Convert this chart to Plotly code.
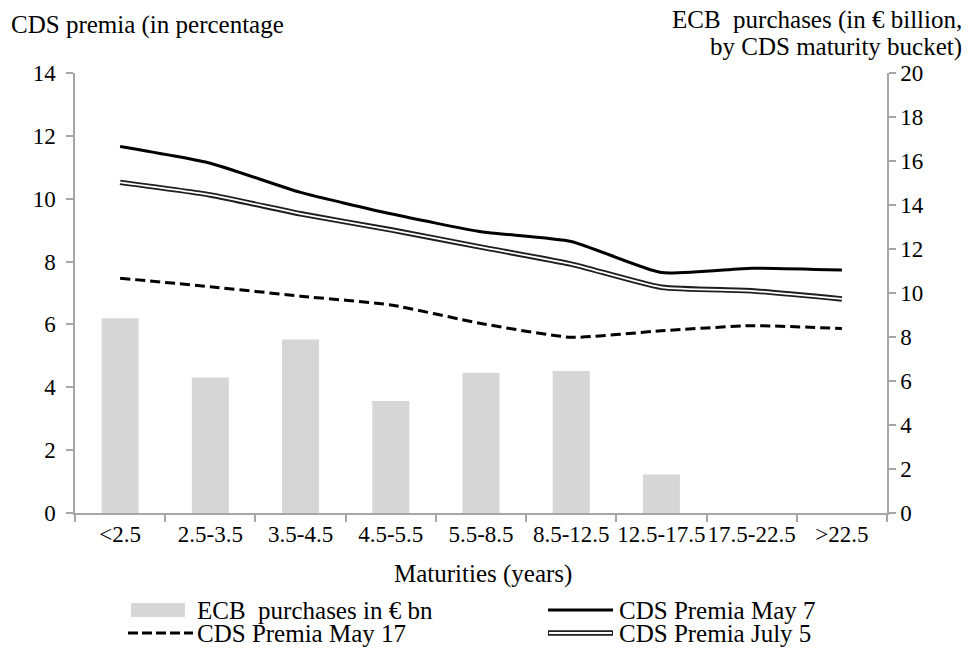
import plotly.graph_objects as go

categories = ["<2.5", "2.5-3.5", "3.5-4.5", "4.5-5.5", "5.5-8.5", "8.5-12.5", "12.5-17.5", "17.5-22.5", ">22.5"]
ecb_purchases = [8.85, 6.16, 7.89, 5.09, 6.37, 6.46, 1.75, 0, 0]
cds_may7 = [11.66, 11.13, 10.20, 9.52, 8.95, 8.64, 7.65, 7.79, 7.73]
cds_may17 = [7.47, 7.20, 6.90, 6.62, 6.03, 5.59, 5.80, 5.96, 5.87]
cds_july5 = [10.52, 10.12, 9.52, 9.01, 8.46, 7.92, 7.18, 7.07, 6.81]

legend_names = ["ECB\u00a0 purchases in € bn", "CDS Premia May 7", "CDS Premia May 17", "CDS Premia July 5"]
left_title = "CDS premia (in percentage"
right_title_lines = ["ECB\u00a0 purchases (in € billion,", "by CDS maturity bucket)"]
x_title = "Maturities (years)"

FONT = "'Times New Roman', 'Liberation Serif', 'DejaVu Serif', serif"
W, H = 969, 655
ML, MR, MT, MB = 75, 82, 73, 142
PW, PH = W - ML - MR, H - MT - MB
BAR_COL = "#d6d6d6"
AX_COL = "#a6a6a6"

def f(size):
    return dict(family=FONT, size=size, color="black")

def px(X):
    return (X - ML) / PW

def py(Y):
    return (H - MB - Y) / PH

fig = go.Figure()
fig.add_trace(go.Bar(x=categories, y=ecb_purchases, name=legend_names[0],
                     marker=dict(color=BAR_COL, line=dict(width=0)), width=0.41, yaxis="y2"))
fig.add_trace(go.Scatter(x=categories, y=cds_may7, name=legend_names[1], mode="lines",
                         line=dict(color="black", width=3, shape="spline", smoothing=0.5)))
fig.add_trace(go.Scatter(x=categories, y=cds_may17, name=legend_names[2], mode="lines",
                         line=dict(color="black", width=3, dash="10px,5px", shape="spline", smoothing=0.5)))
fig.add_trace(go.Scatter(x=categories, y=cds_july5, name=legend_names[3], mode="lines",
                         line=dict(color="#1e1e1e", width=5.5, shape="spline", smoothing=0.5)))
fig.add_trace(go.Scatter(x=categories, y=cds_july5, name="inner", mode="lines",
                         line=dict(color="white", width=1.8, shape="spline", smoothing=0.5)))

# manual legend (two columns)
row1, row2 = 610, 633
colL_sym, colR_sym = (128, 193), (548, 613)
colL_txt, colR_txt = 195, 617
shapes = [
    dict(type="rect", xref="paper", yref="paper", x0=px(colL_sym[0] + 3), x1=px(colL_sym[1] - 8),
         y0=py(row1 + 7), y1=py(row1 - 7), fillcolor=BAR_COL, line=dict(width=0)),
    dict(type="line", xref="paper", yref="paper", x0=px(colR_sym[0]), x1=px(colR_sym[1]),
         y0=py(row1), y1=py(row1), line=dict(color="black", width=3)),
    dict(type="line", xref="paper", yref="paper", x0=px(colL_sym[0]), x1=px(colL_sym[1]),
         y0=py(row2), y1=py(row2), line=dict(color="black", width=3, dash="10px,4px")),
    dict(type="line", xref="paper", yref="paper", x0=px(colR_sym[0]), x1=px(colR_sym[1]),
         y0=py(row2), y1=py(row2), line=dict(color="#1e1e1e", width=5.5)),
    dict(type="line", xref="paper", yref="paper", x0=px(colR_sym[0] + 1), x1=px(colR_sym[1] - 1),
         y0=py(row2), y1=py(row2), line=dict(color="white", width=1.8)),
]
ann = []
for name, xx, yy in [(legend_names[0], colL_txt, row1), (legend_names[1], colR_txt, row1),
                     (legend_names[2], colL_txt, row2), (legend_names[3], colR_txt, row2)]:
    ann.append(dict(text=name, xref="paper", yref="paper", x=px(xx), y=py(yy), xanchor="left",
                    yanchor="middle", showarrow=False, font=f(25)))
ann.append(dict(text=left_title, xref="paper", yref="paper", x=px(9), y=py(25),
                xanchor="left", yanchor="middle", showarrow=False, font=f(25)))
for line, yy in zip(right_title_lines, [20, 47]):
    ann.append(dict(text=line, xref="paper", yref="paper", x=px(964), y=py(yy), xanchor="right",
                    yanchor="middle", showarrow=False, font=f(25)))
ann.append(dict(text=x_title, xref="paper", yref="paper", x=px(483), y=py(574),
                xanchor="center", yanchor="middle", showarrow=False, font=f(25)))

fig.update_layout(
    width=W, height=H,
    margin=dict(l=ML, r=MR, t=MT, b=MB, autoexpand=False),
    paper_bgcolor="white", plot_bgcolor="white",
    font=f(23),
    showlegend=False,
    xaxis=dict(range=[-0.5, 8.5], showline=True, linecolor=AX_COL, linewidth=1.5,
               ticks="outside", tickson="boundaries", ticklen=7, tickcolor=AX_COL, tickwidth=1.5,
               showgrid=False, tickfont=f(23), tickangle=0),
    yaxis=dict(range=[0, 14], dtick=2, showline=True, linecolor=AX_COL, linewidth=1.5,
               ticks="outside", ticklen=7, tickcolor=AX_COL, tickwidth=1.5, showgrid=False,
               zeroline=False, tickfont=f(23), ticklabelstandoff=6),
    yaxis2=dict(range=[0, 20], dtick=2, overlaying="y", side="right", showline=True,
                linecolor=AX_COL, linewidth=1.5, ticks="outside", ticklen=7, tickcolor=AX_COL,
                tickwidth=1.5, showgrid=False, zeroline=False, tickfont=f(23)),
    shapes=shapes,
    annotations=ann,
)

fig.write_html("out.html", config={"displayModeBar": False},
               post_script="document.body.style.margin='0';")
